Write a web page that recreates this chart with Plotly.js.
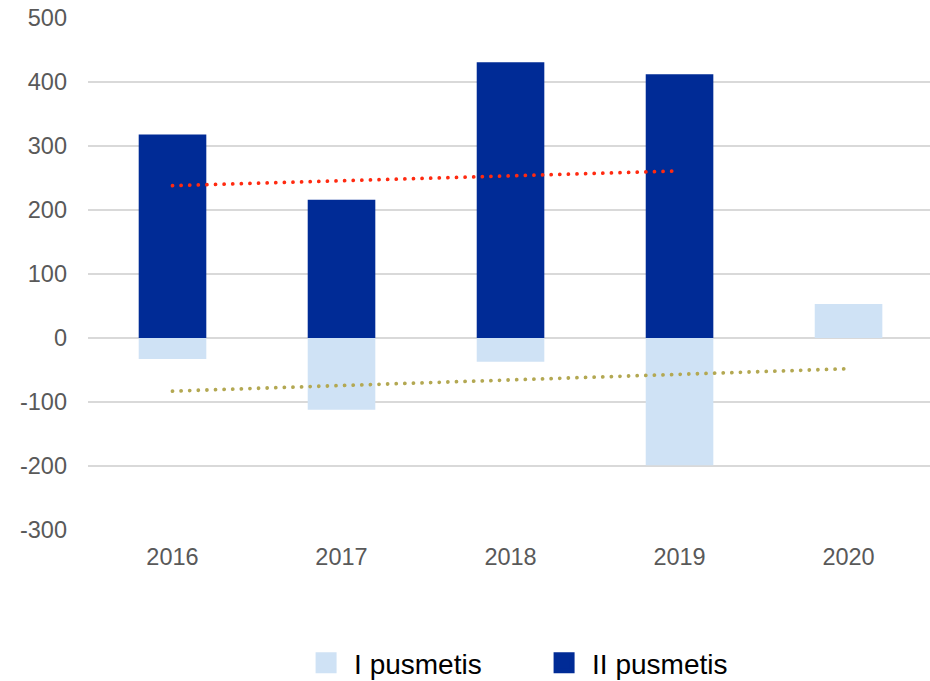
<!DOCTYPE html>
<html>
<head>
<meta charset="utf-8">
<script src="https://cdn.plot.ly/plotly-3.0.1.min.js"></script>
<style>
	html, body { margin: 0; padding: 0; background: #fff; }
	#chart { width: 930px; height: 681px; }
	/* round dots for the dotted trend lines */
	#chart .scatterlayer .js-line { stroke-linecap: round; }
</style>
</head>
<body>
<div id="chart"></div>
<script>
// values
var years = ['2016', '2017', '2018', '2019', '2020'];
var firstHalf = [-33, -112, -37, -199, 53];
var secondHalf = [318, 216, 431, 412, null];
var firstHalfName = 'I pusmetis';
var secondHalfName = 'II pusmetis';

// dotted trend lines, start and end points
var trendSecondX = ['2016', '2019'];
var trendSecondY = [238, 261];
var trendFirstX = ['2016', '2020'];
var trendFirstY = [-83, -48];

var yTicks = [-300, -200, -100, 0, 100, 200, 300, 400, 500];
var yTickText = ['-300', '-200', '-100', '0', '100', '200', '300', '400', '500'];

var lightBlue = '#cfe2f5';
var darkBlue = '#002b96';

var data = [{
	x : years,
	y : firstHalf,
	type : 'bar',
	name : firstHalfName,
	legendgroup : 'first',
	showlegend : false,
	marker : { color : lightBlue }
}, {
	x : years,
	y : secondHalf,
	type : 'bar',
	name : secondHalfName,
	legendgroup : 'second',
	showlegend : false,
	marker : { color : darkBlue }
}, {
	x : trendSecondX,
	y : trendSecondY,
	type : 'scatter',
	mode : 'lines',
	showlegend : false,
	hoverinfo : 'skip',
	line : { color : '#ff2a10', width : 3.8, dash : '0.01px,8.6px' }
}, {
	x : trendFirstX,
	y : trendFirstY,
	type : 'scatter',
	mode : 'lines',
	showlegend : false,
	hoverinfo : 'skip',
	line : { color : '#b3a852', width : 3.8, dash : '0.01px,8.6px' }
}, {
	// legend entries only (bigger squares than the bar legend symbol)
	x : [null],
	y : [null],
	type : 'scatter',
	mode : 'markers',
	name : firstHalfName,
	legendgroup : 'first',
	marker : { symbol : 'square', size : 22, color : lightBlue,
		line : { color : lightBlue, width : 5 } }
}, {
	x : [null],
	y : [null],
	type : 'scatter',
	mode : 'markers',
	name : secondHalfName,
	legendgroup : 'second',
	marker : { symbol : 'square', size : 22, color : darkBlue,
		line : { color : darkBlue, width : 5 } }
}];

var layout = {
	width : 930,
	height : 681,
	paper_bgcolor : '#ffffff',
	plot_bgcolor : '#ffffff',
	margin : { l : 88, r : 0, t : 18, b : 151, autoexpand : false },
	barmode : 'relative',
	bargap : 0.6,
	font : { family : 'Liberation Sans, Arial, sans-serif', size : 23.5, color : '#595959' },
	xaxis : {
		type : 'category',
		range : [-0.5, 4.482],
		showgrid : false,
		zeroline : false,
		showline : false,
		ticks : '',
		ticklabelstandoff : 10,
		tickfont : { size : 23.5, color : '#595959' }
	},
	yaxis : {
		range : [-300, 500],
		tickvals : yTicks,
		ticktext : yTickText,
		showgrid : true,
		gridcolor : '#d9d9d9',
		gridwidth : 1.5,
		zeroline : true,
		zerolinecolor : '#d9d9d9',
		zerolinewidth : 1.5,
		ticks : '',
		ticklabelstandoff : 20,
		tickfont : { size : 23.5, color : '#595959' }
	},
	showlegend : true,
	legend : {
		orientation : 'h',
		x : 0.2495,
		xanchor : 'left',
		y : -0.26,
		yanchor : 'middle',
		font : { size : 28, color : '#000000' },
		itemwidth : 46,
		itemsizing : 'trace',
		entrywidth : 177,
		traceorder : 'normal'
	}
};

var config = { displayModeBar : false, responsive : false };

Plotly.newPlot(document.getElementById('chart'), data, layout, config);
</script>
</body>
</html>
